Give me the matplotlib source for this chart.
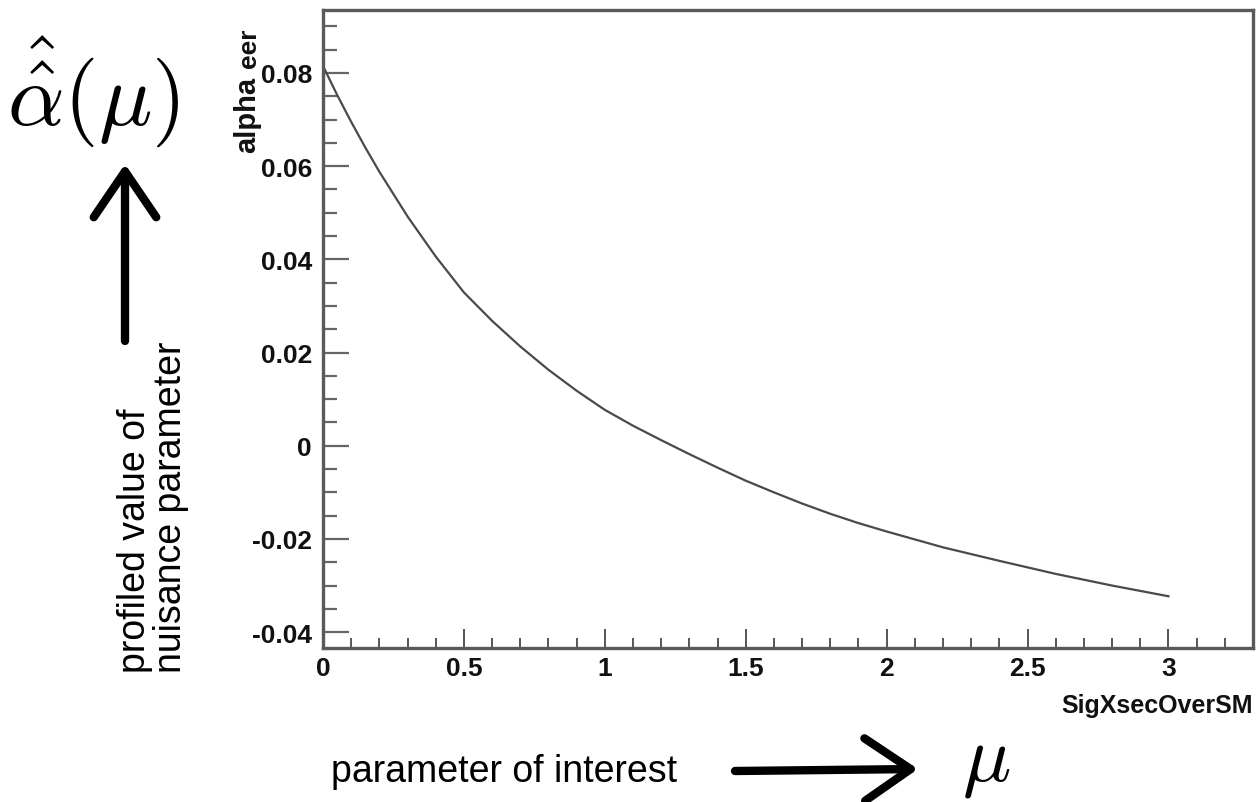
import matplotlib
matplotlib.use("Agg")
import matplotlib.pyplot as plt
from matplotlib.ticker import MultipleLocator

# profiled nuisance parameter vs signal strength
mu = [0.0, 0.05, 0.1, 0.15, 0.2, 0.3, 0.4, 0.5, 0.6, 0.7, 0.8, 0.9, 1.0,
      1.1, 1.2, 1.3, 1.4, 1.5, 1.6, 1.7, 1.8, 1.9, 2.0,
      2.2, 2.4, 2.6, 2.8, 3.0]
alpha_hat = [0.0815, 0.0753, 0.0695, 0.0640, 0.0588, 0.0492, 0.0406,
             0.0329, 0.0268, 0.0213, 0.0163, 0.0118, 0.0077,
             0.0043, 0.0012, -0.0018, -0.0047, -0.0075, -0.0100, -0.0124,
             -0.0146, -0.0166, -0.0184,
             -0.0218, -0.0247, -0.0275, -0.0300, -0.0323]

x_ticks = [0, 0.5, 1, 1.5, 2, 2.5, 3]
x_ticklabels = ["0", "0.5", "1", "1.5", "2", "2.5", "3"]
y_ticks = [-0.04, -0.02, 0, 0.02, 0.04, 0.06, 0.08]
y_ticklabels = ["-0.04", "-0.02", "0", "0.02", "0.04", "0.06", "0.08"]

W, H = 1258, 803

plt.rcParams["font.family"] = ["Liberation Sans", "DejaVu Sans"]

fig = plt.figure(figsize=(W / 100, H / 100), dpi=100)
fig.patch.set_facecolor("white")


def fx(x):
    return x / W


def fy(y):
    return 1 - y / H


# ROOT-like frame
ax = fig.add_axes([fx(323), fy(649), fx(1253) - fx(323), fy(11) - fy(649)])
ax.plot(mu, alpha_hat, color="#4a4a4a", linewidth=1.6)

ax.set_xlim(0, 3.3)
ax.set_ylim(-0.0434, 0.0935)

for side in ["left", "bottom", "right", "top"]:
    ax.spines[side].set_color("#5a5a5a")
    ax.spines[side].set_linewidth(2.4)

ax.set_xticks(x_ticks)
ax.set_xticklabels(x_ticklabels)
ax.set_yticks(y_ticks)
ax.set_yticklabels(y_ticklabels)
ax.xaxis.set_minor_locator(MultipleLocator(0.1))
ax.yaxis.set_minor_locator(MultipleLocator(0.005))

ax.tick_params(axis="y", which="major", direction="in", length=19, width=1.6,
               color="#666666", pad=8, labelsize=19)
ax.tick_params(axis="y", which="minor", direction="in", length=10, width=1.6,
               color="#666666")
ax.tick_params(axis="x", which="major", direction="in", length=14, width=1.4,
               color="#555555", pad=6, labelsize=19)
ax.tick_params(axis="x", which="minor", direction="in", length=7, width=1.4,
               color="#555555")
for lab in ax.get_xticklabels() + ax.get_yticklabels():
    lab.set_fontweight("bold")
    lab.set_color("#111111")

# axis titles (ROOT puts them at the ends)
fig.text(fx(1253), fy(706), "SigXsecOverSM", ha="right", va="center",
         fontsize=18, fontweight="bold", color="#111111")
fig.text(fx(247), fy(153), "alpha", rotation=90, ha="center", va="bottom",
         fontsize=21, fontweight="bold", color="#111111")
fig.text(fx(249), fy(68), "eer", rotation=90, ha="center", va="bottom",
         fontsize=19, fontweight="bold", color="#111111")

# hand annotations
fig.text(fx(93), fy(92), r"$\hat{\hat{\alpha}}(\mu)$", ha="center",
         va="center", fontsize=64, math_fontfamily="cm")
fig.text(fx(986), fy(762), r"$\mu$", ha="center", va="center",
         fontsize=58, math_fontfamily="cm")

fig.text(fx(153), fy(673), "profiled value of\nnuisance parameter",
         rotation=90, ha="center", va="bottom", multialignment="left",
         fontsize=27, linespacing=1.0)
fig.text(fx(677), fy(772), "parameter of interest", ha="right",
         va="center", fontsize=27)

arrow_style = "->,head_length=1.1,head_width=0.75"
ax.annotate("", xy=(125, H - 165), xytext=(125, H - 342),
            xycoords="figure pixels", textcoords="figure pixels",
            arrowprops=dict(arrowstyle=arrow_style, color="black", lw=6,
                            mutation_scale=30, shrinkA=0, shrinkB=0),
            annotation_clip=False)
ax.annotate("", xy=(918, H - 770), xytext=(735, H - 772),
            xycoords="figure pixels", textcoords="figure pixels",
            arrowprops=dict(arrowstyle=arrow_style, color="black", lw=6,
                            mutation_scale=30, shrinkA=0, shrinkB=0),
            annotation_clip=False)

fig.savefig("out.png", dpi=100)
